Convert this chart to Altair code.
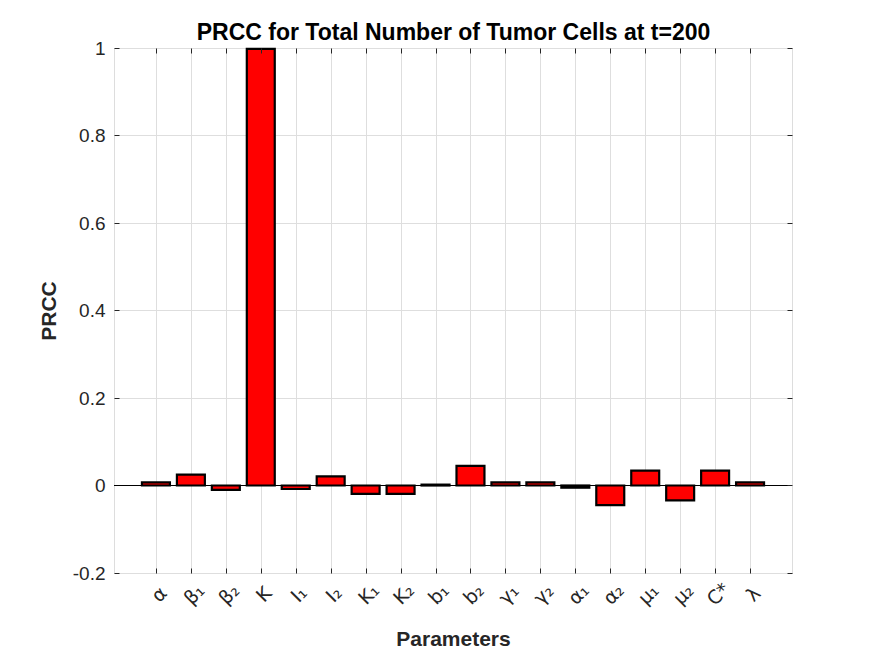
import altair as alt
import pandas as pd

params = ["α", "β₁", "β₂", "K", "I₁", "I₂", "K₁", "K₂", "b₁", "b₂",
          "γ₁", "γ₂", "α₁", "α₂", "μ₁", "μ₂", "C*", "λ"]
prcc = [0.007, 0.025, -0.010, 0.998, -0.008, 0.021, -0.019, -0.019, 0.002, 0.045,
        0.007, 0.007, -0.005, -0.045, 0.034, -0.034, 0.034, 0.007]
y_ticks = [-0.2, 0, 0.2, 0.4, 0.6, 0.8, 1]
x_ticks = list(range(1, len(params) + 1))
chart_title = "PRCC for Total Number of Tumor Cells at t=200"

df = pd.DataFrame({"param": params, "prcc": prcc, "pos": x_ticks})

label_array = "[" + ",".join("'" + p + "'" for p in params) + "]"

xscale = alt.Scale(domain=[-0.2, len(params) + 1.2], nice=False, zero=False)
yscale = alt.Scale(domain=[-0.2, 1], nice=False, zero=False)

AX = "#262626"
GRID = "#dedede"

base = alt.Chart(df).transform_calculate(
    x0="datum.pos - 0.4", x1="datum.pos + 0.4"
)

bars = base.mark_bar(fill="#ff0000", stroke="#000000", strokeWidth=2.2).encode(
    x=alt.X(
        "x0:Q",
        scale=xscale,
        axis=alt.Axis(
            orient="bottom",
            values=x_ticks,
            labelExpr=label_array + "[datum.value - 1]",
            title="Parameters",
            grid=True,
            gridColor=GRID,
            offset=-5,
            ticks=True,
            tickSize=5,
            tickColor=AX,
            domain=False,
            labelAngle=-45,
            labelAlign="center",
            labelBaseline="middle",
            labelPadding=21,
            labelOffset=3,
            labelFont="DejaVu Sans",
            labelFontSize=19,
            labelColor=AX,
            titleFont="Liberation Sans",
            titleFontWeight="bold",
            titleFontSize=21,
            titleColor=AX,
            titleBaseline="alphabetic",
            titleY=77,
        ),
    ),
    x2="x1:Q",
    y=alt.Y(
        "prcc:Q",
        scale=yscale,
        axis=alt.Axis(
            orient="left",
            values=y_ticks,
            labelExpr="'' + datum.value",
            title="PRCC",
            grid=True,
            gridColor=GRID,
            offset=-5,
            ticks=True,
            tickSize=5,
            tickColor=AX,
            domain=False,
            labelFont="Liberation Sans",
            labelFontSize=19,
            labelColor=AX,
            labelPadding=9,
            titleFont="Liberation Sans",
            titleFontWeight="bold",
            titleFontSize=21,
            titleColor=AX,
            titleBaseline="alphabetic",
            titleX=-64,
        ),
    ),
    y2=alt.datum(0),
)

zero_line = alt.Chart(df).mark_rule(color="#000000", strokeWidth=1).encode(
    y=alt.YDatum(0, scale=yscale, axis=None)
)

frame_ticks = base.mark_bar(opacity=0).encode(
    x=alt.X(
        "x0:Q",
        scale=xscale,
        axis=alt.Axis(
            orient="top",
            values=x_ticks,
            labels=False,
            grid=False,
            domain=False,
            ticks=True,
            tickSize=5,
            tickColor=AX,
            offset=-5,
            title=chart_title,
            titleFont="Liberation Sans",
            titleFontWeight="bold",
            titleFontSize=23,
            titleColor="#000000",
            titleBaseline="alphabetic",
            titleY=-14,
            zindex=1,
        ),
    ),
    x2="x1:Q",
    y=alt.Y(
        "prcc:Q",
        scale=yscale,
        axis=alt.Axis(
            orient="right",
            values=y_ticks,
            labels=False,
            grid=False,
            domain=False,
            ticks=True,
            tickSize=5,
            tickColor=AX,
            offset=-5,
            title="",
            zindex=1,
        ),
    ),
    y2=alt.datum(0),
)

chart = (
    alt.layer(bars, zero_line, frame_ticks)
    .resolve_axis(x="independent", y="independent")
    .properties(
        width=678,
        height=525,
        autosize=alt.AutoSizeParams(type="none"),
        padding={"left": 106, "top": 40, "right": 70, "bottom": 75},
    )
    .configure_view(stroke=AX, strokeWidth=1)
    .configure(background="#ffffff")
)

chart.save("out.html", embed_options={"renderer": "svg", "actions": False})
